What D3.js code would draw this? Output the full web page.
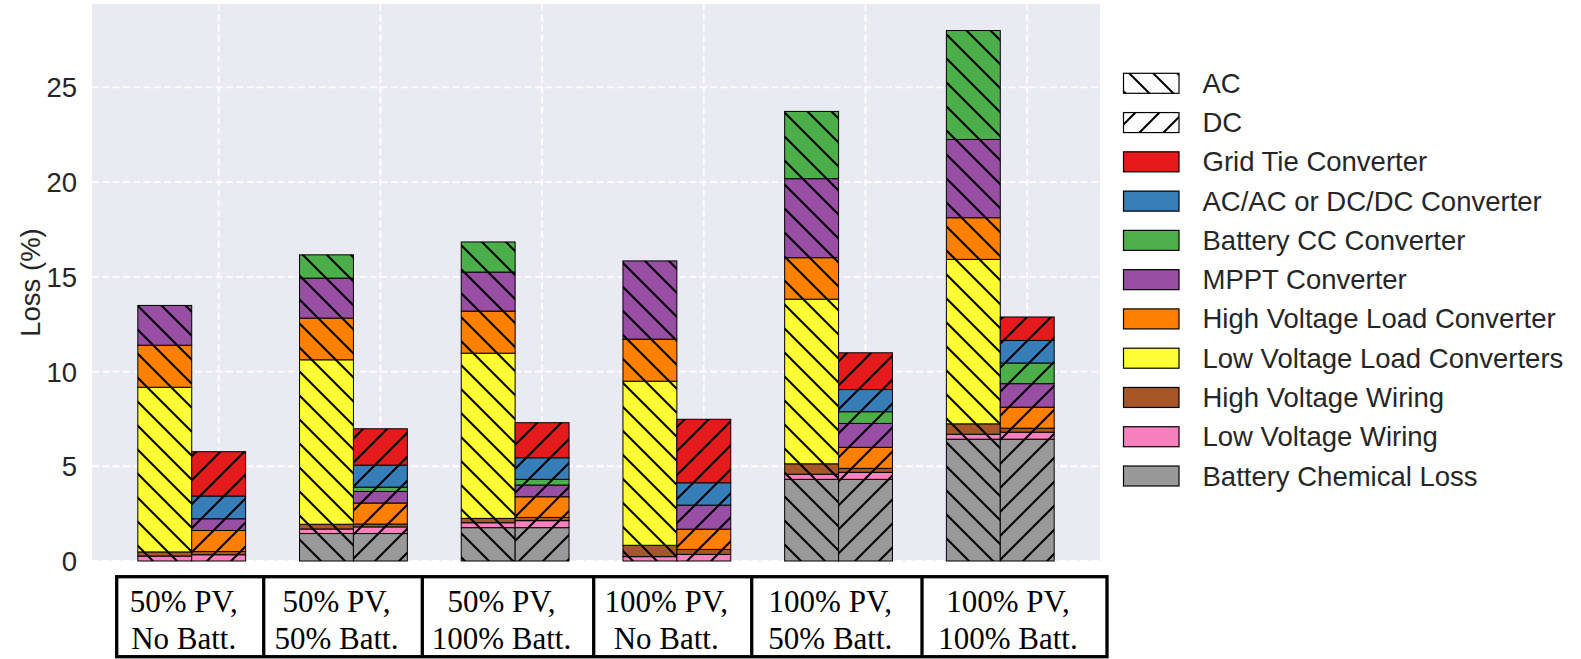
<!DOCTYPE html>
<html><head><meta charset="utf-8">
<script src="https://cdn.jsdelivr.net/npm/d3@7"></script>
<style>html,body{margin:0;padding:0;background:#fff}svg{display:block}</style>
</head><body>
<svg id="chart" width="1581" height="659"></svg>
<script>
// ---------- data ----------
const categories = ["50% PV,\nNo Batt.", "50% PV,\n50% Batt.", "50% PV,\n100% Batt.",
                    "100% PV,\nNo Batt.", "100% PV,\n50% Batt.", "100% PV,\n100% Batt."];
const systems = ["AC", "DC"];
const components = ["Grid Tie Converter", "AC/AC or DC/DC Converter", "Battery CC Converter",
  "MPPT Converter", "High Voltage Load Converter", "Low Voltage Load Converters",
  "High Voltage Wiring", "Low Voltage Wiring", "Battery Chemical Loss"];
const yTicks = [0, 5, 10, 15, 20, 25];

// AC system losses (%)
const gridTieAC   = [0, 0, 0, 0, 0, 0];
const acdcConvAC  = [0, 0, 0, 0, 0, 0];
const battCCAC    = [0, 1.23, 1.59, 0, 3.55, 5.75];
const mpptAC      = [2.10, 2.11, 2.06, 4.13, 4.17, 4.13];
const hvLoadAC    = [2.22, 2.20, 2.22, 2.22, 2.19, 2.20];
const lvLoadAC    = [8.69, 8.68, 8.72, 8.66, 8.69, 8.68];
const hvWiringAC  = [0.22, 0.25, 0.23, 0.60, 0.55, 0.55];
const lvWiringAC  = [0.26, 0.24, 0.26, 0.23, 0.27, 0.26];
const battChemAC  = [0, 1.45, 1.76, 0, 4.31, 6.43];

// DC system losses (%)
const gridTieDC   = [2.34, 1.92, 1.85, 3.35, 1.94, 1.24];
const acdcConvDC  = [1.20, 1.16, 1.14, 1.18, 1.17, 1.19];
const battCCDC    = [0, 0.23, 0.30, 0, 0.62, 1.09];
const mpptDC      = [0.62, 0.61, 0.62, 1.27, 1.26, 1.24];
const hvLoadDC    = [1.11, 1.11, 1.09, 1.07, 1.11, 1.11];
const lvLoadDC    = [0, 0, 0, 0, 0, 0];
const hvWiringDC  = [0.17, 0.15, 0.17, 0.26, 0.21, 0.21];
const lvWiringDC  = [0.33, 0.35, 0.37, 0.35, 0.37, 0.37];
const battChemDC  = [0, 1.45, 1.76, 0, 4.31, 6.43];

// ---------- styles / layout ----------
const colors = ["#E41A1C", "#377EB8", "#4DAF4A", "#984EA3", "#FF7F00", "#FFFF33", "#A65628", "#F781BF", "#999999"];
const seriesBySystem = {
  AC: [gridTieAC, acdcConvAC, battCCAC, mpptAC, hvLoadAC, lvLoadAC, hvWiringAC, lvWiringAC, battChemAC],
  DC: [gridTieDC, acdcConvDC, battCCDC, mpptDC, hvLoadDC, lvLoadDC, hvWiringDC, lvWiringDC, battChemDC]
};
const plot = {left: 92, right: 1100, top: 4, bottom: 561};
const barW = 1/3;
const sysOffset = {AC: -barW, DC: 0};
const txtColor = "#262626";
const sans = "'Liberation Sans', Arial, sans-serif";
const serif = "'Liberation Serif', 'Times New Roman', serif";

const svg = d3.select("#chart");
const defs = svg.append("defs");

function hatch(id, d) {
  const p = defs.append("pattern").attr("id", id).attr("patternUnits", "userSpaceOnUse")
    .attr("width", 24).attr("height", 24);
  p.append("path").attr("d", d).attr("stroke", "#000").attr("stroke-width", 2)
    .attr("fill", "none").attr("stroke-linecap", "square");
}
hatch("hatch-AC", "M0,0L24,24M-6,18L6,30M18,-6L30,6");
hatch("hatch-DC", "M0,24L24,0M-6,6L6,-6M18,30L30,18");

const xDomainMin = -0.5 - (5 + 1/6 + 0.5) * 0.05;
const xDomainMax = 5 + 1/6 + (5 + 1/6 + 0.5) * 0.05;
const x = d3.scaleLinear().domain([xDomainMin, xDomainMax]).range([plot.left, plot.right]);
const maxTotal = d3.max(systems, s => d3.max(categories, (c, i) => d3.sum(seriesBySystem[s], a => a[i])));
const y = d3.scaleLinear().domain([0, maxTotal * 1.05]).range([plot.bottom, plot.top]);

// background
svg.append("rect").attr("x", plot.left).attr("y", plot.top)
  .attr("width", plot.right - plot.left).attr("height", plot.bottom - plot.top).attr("fill", "#EAEAF2");

// grid
const grid = svg.append("g").attr("stroke", "#fff").attr("stroke-width", 1.8).attr("stroke-dasharray", "7,3.3");
grid.selectAll("line.h").data(yTicks).join("line").attr("class", "h")
  .attr("x1", plot.left).attr("x2", plot.right).attr("y1", d => y(d)).attr("y2", d => y(d));
grid.selectAll("line.v").data(d3.range(categories.length)).join("line").attr("class", "v")
  .attr("y1", plot.top).attr("y2", plot.bottom).attr("x1", d => x(d)).attr("x2", d => x(d));

// bars
const keys = components.slice().reverse(); // stacking order bottom → top
systems.forEach(s => {
  const rows = categories.map((c, i) => {
    const o = {idx: i};
    components.forEach((k, j) => o[k] = seriesBySystem[s][j][i]);
    return o;
  });
  const stacked = d3.stack().keys(keys)(rows);
  const g = svg.append("g");
  stacked.forEach(layer => {
    const col = colors[components.indexOf(layer.key)];
    const segs = layer.filter(d => d[1] - d[0] > 0);
    g.selectAll(null).data(segs).join("rect")
      .attr("x", d => x(d.data.idx + sysOffset[s] - barW / 2))
      .attr("width", d => x(d.data.idx + sysOffset[s] + barW / 2) - x(d.data.idx + sysOffset[s] - barW / 2))
      .attr("y", d => y(d[1])).attr("height", d => y(d[0]) - y(d[1]))
      .attr("fill", col);
    g.selectAll(null).data(segs).join("rect")
      .attr("x", d => x(d.data.idx + sysOffset[s] - barW / 2))
      .attr("width", d => x(d.data.idx + sysOffset[s] + barW / 2) - x(d.data.idx + sysOffset[s] - barW / 2))
      .attr("y", d => y(d[1])).attr("height", d => y(d[0]) - y(d[1]))
      .attr("fill", `url(#hatch-${s})`).attr("stroke", "#000").attr("stroke-width", 1);
  });
});

// y axis
const yAxis = d3.axisLeft(y).tickValues(yTicks).tickSize(0).tickPadding(15);
const ya = svg.append("g").attr("transform", `translate(${plot.left},0)`).call(yAxis);
ya.select(".domain").remove();
ya.selectAll("text").attr("font-family", sans).attr("font-size", 27.5).attr("fill", txtColor)
  .attr("dy", "0.35em");
svg.append("text").attr("transform", `translate(30,${(plot.top + plot.bottom) / 2}) rotate(-90)`)
  .attr("text-anchor", "middle").attr("dominant-baseline", "central")
  .attr("font-family", sans).attr("font-size", 27.5).attr("fill", txtColor).text("Loss (%)");

// legend
const legendItems = systems.map(s => ({label: s, fill: `url(#hatch-${s})`, base: "#fff"}))
  .concat(components.map((c, i) => ({label: c, fill: colors[i], base: colors[i]})));
const lg = svg.append("g");
legendItems.forEach((it, i) => {
  const cy = 83.3 + i * 39.27;
  lg.append("rect").attr("x", 1123.5).attr("y", cy - 10).attr("width", 55.5).attr("height", 20)
    .attr("fill", it.base);
  lg.append("rect").attr("x", 1123.5).attr("y", cy - 10).attr("width", 55.5).attr("height", 20)
    .attr("fill", it.fill).attr("stroke", "#000").attr("stroke-width", 1.2);
  lg.append("text").attr("x", 1202.5).attr("y", cy).attr("dominant-baseline", "central")
    .attr("font-family", sans).attr("font-size", 27.5).attr("fill", txtColor).text(it.label);
});

// table of scenarios under the axis
const colEdges = [116.7, 263.7, 422.3, 593.7, 751.7, 922, 1107];
const tTop = 576.7, tBot = 656.7;
const tg = svg.append("g");
tg.append("rect").attr("x", colEdges[0]).attr("y", tTop)
  .attr("width", colEdges[colEdges.length - 1] - colEdges[0]).attr("height", tBot - tTop)
  .attr("fill", "#fff").attr("stroke", "#000").attr("stroke-width", 3.3);
tg.selectAll("line").data(colEdges.slice(1, -1)).join("line")
  .attr("x1", d => d).attr("x2", d => d).attr("y1", tTop).attr("y2", tBot)
  .attr("stroke", "#000").attr("stroke-width", 3.3);
categories.forEach((c, i) => {
  const cx = (colEdges[i] + colEdges[i + 1]) / 2 - 6.5;
  c.split("\n").forEach((line, j) => {
    tg.append("text").attr("x", cx).attr("y", 611.7 + j * 37.6).attr("text-anchor", "middle")
      .attr("font-family", serif).attr("font-size", 31).attr("fill", "#000").text(line);
  });
});
</script>
</body></html>
